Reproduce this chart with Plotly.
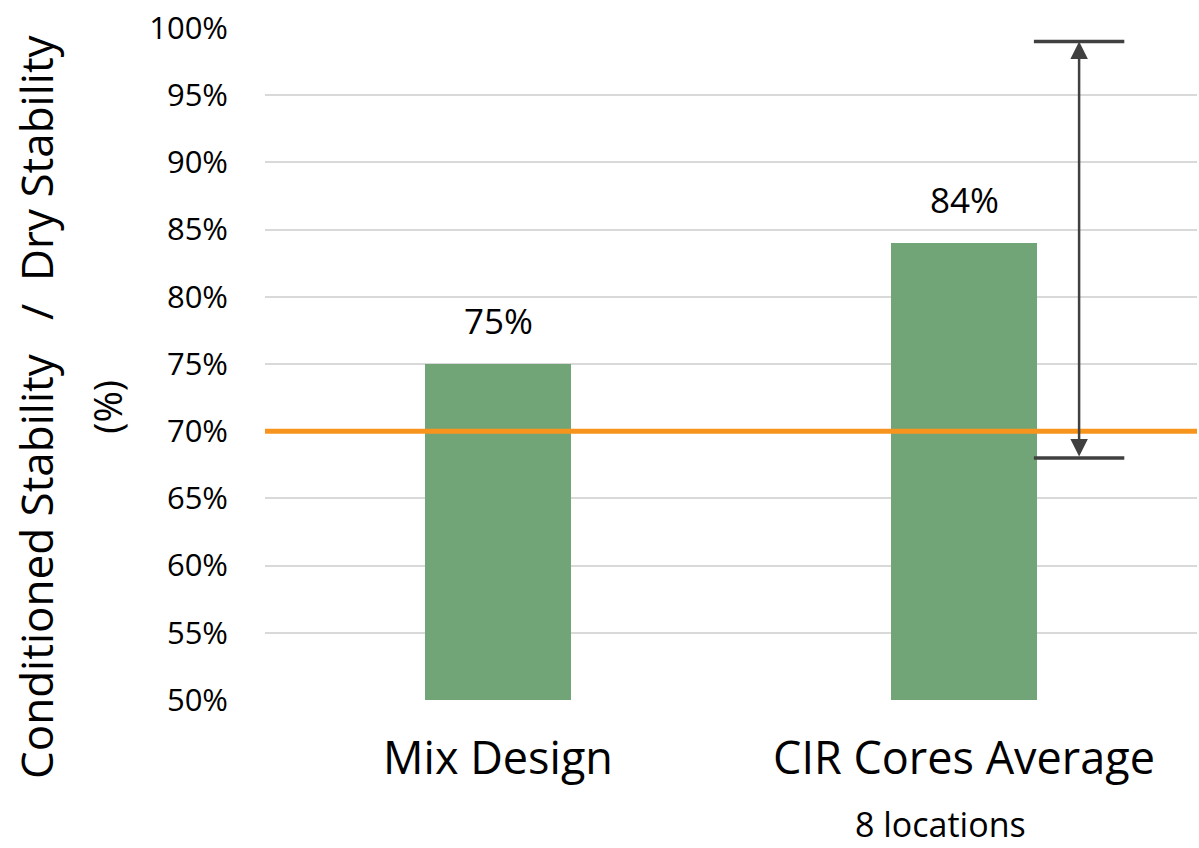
import plotly.graph_objects as go

# Stability ratio results
categories = ["Mix Design", "CIR Cores Average"]
ratio_pct = [75, 84]
bar_labels = ["75%", "84%"]
cores_err_plus = 15
cores_err_minus = 16
cores_note = "8 locations"
threshold_pct = 70
y_ticks = [50, 55, 60, 65, 70, 75, 80, 85, 90, 95, 100]
y_tick_labels = [f"{v}%" for v in y_ticks]
y_title_main = "Conditioned Stability\u00a0\u00a0\u00a0/\u00a0\u00a0Dry Stability"
y_title_unit = "(%)"

FONT = "Open Sans"
BAR_COLOR = "#71a577"
LINE_COLOR = "#f7941d"
ERR_COLOR = "#404040"
ERR_OFFSET = 0.247   # error arrow sits to the right of the cores bar
CAP_HALF = 0.097

x_idx = list(range(len(categories)))

fig = go.Figure()
fig.add_trace(go.Bar(
    x=x_idx, y=ratio_pct, width=0.313,
    marker=dict(color=BAR_COLOR, line=dict(width=0)),
    hoverinfo="skip", showlegend=False,
))

# minimum requirement line
fig.add_shape(type="line", xref="paper", yref="y", x0=0, x1=1,
              y0=threshold_pct, y1=threshold_pct,
              line=dict(color=LINE_COLOR, width=5), layer="above")

# value labels above bars
for i, (v, t) in enumerate(zip(ratio_pct, bar_labels)):
    fig.add_annotation(x=i, y=v, text=t, showarrow=False, yanchor="bottom",
                       yshift=18, font=dict(family=FONT, size=35, color="#000"))

# range of core results shown as a double-headed arrow with caps
ex = 1 + ERR_OFFSET
y_hi = ratio_pct[1] + cores_err_plus
y_lo = ratio_pct[1] - cores_err_minus
fig.add_annotation(x=ex, y=y_hi, ax=ex, ay=y_lo, xref="x", yref="y",
                   axref="x", ayref="y", text="", showarrow=True,
                   arrowhead=2, arrowside="end+start", arrowsize=1.4,
                   arrowwidth=2.5, arrowcolor=ERR_COLOR, standoff=0,
                   startstandoff=0)
for yy in (y_hi, y_lo):
    fig.add_shape(type="line", xref="x", yref="y", x0=ex - CAP_HALF,
                  x1=ex + CAP_HALF, y0=yy, y1=yy,
                  line=dict(color=ERR_COLOR, width=3.5))

# y-axis title (two lines)
fig.add_annotation(xref="paper", yref="paper", x=-0.245, y=0.437,
                   xanchor="center", yanchor="middle",
                   text=y_title_main, textangle=-90, showarrow=False,
                   font=dict(family=FONT, size=44, color="#000"))
fig.add_annotation(xref="paper", yref="paper", x=-0.169, y=0.437,
                   xanchor="center", yanchor="middle",
                   text=y_title_unit, textangle=-90, showarrow=False,
                   font=dict(family=FONT, size=38, color="#000"))

# note under the second category
fig.add_annotation(xref="x", yref="paper", x=0.95, y=-0.185, text=cores_note,
                   showarrow=False, yanchor="middle", borderpad=0,
                   font=dict(family=FONT, size=34, color="#000"))

fig.update_layout(
    width=1199, height=848,
    margin=dict(l=265, r=2, t=28, b=148),
    paper_bgcolor="white", plot_bgcolor="white",
    font=dict(family=FONT, color="#000"),
    bargap=0,
    xaxis=dict(tickmode="array", tickvals=x_idx, ticktext=categories,
               range=[-0.5, 1.5], showgrid=False, zeroline=False,
               showline=False, ticks="", ticklabelstandoff=28,
               tickfont=dict(family=FONT, size=45, color="#000")),
    yaxis=dict(range=[50, 100], tickmode="array", tickvals=y_ticks,
               ticktext=y_tick_labels, showgrid=True, gridcolor="#d9d9d9",
               gridwidth=2, zeroline=False, showline=False, ticks="",
               ticklabelstandoff=36,
               tickfont=dict(family=FONT, size=31, color="#000")),
)

fig.write_html("out.html")
